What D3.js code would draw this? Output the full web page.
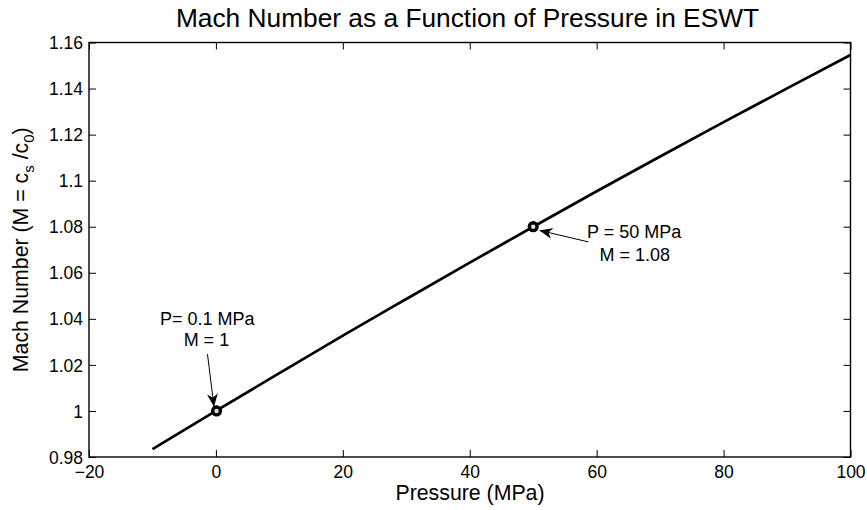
<!DOCTYPE html>
<html><head><meta charset="utf-8">
<script src="https://cdn.jsdelivr.net/npm/d3@7"></script>
<style>body{margin:0;background:#fff}svg{display:block}text{font-family:"Liberation Sans",Arial,Helvetica,sans-serif;fill:#000}</style>
</head><body>
<script>
const pressure = [-10, 0, 10, 20, 30, 40, 50, 60, 70, 80, 90, 100];
const mach = [0.9834, 1.0, 1.0164, 1.0327, 1.0486, 1.0644, 1.08, 1.0954, 1.1105, 1.1254, 1.1401, 1.1546];
const xTicks = [-20, 0, 20, 40, 60, 80, 100];
const yTicks = [0.98, 1, 1.02, 1.04, 1.06, 1.08, 1.1, 1.12, 1.14, 1.16];
const markP = [0.1, 50];
const markM = [1, 1.08];
const titleText = "Mach Number as a Function of Pressure in ESWT";

const W = 867, H = 510;
const m = {l: 89, r: 850.5, t: 42.5, b: 457};
const svg = d3.select("body").append("svg").attr("width", W).attr("height", H);
const defs = svg.append("defs");
defs.append("marker").attr("id","ah").attr("viewBox","0 0 10 10").attr("refX",10).attr("refY",5)
  .attr("markerWidth",13).attr("markerHeight",13).attr("markerUnits","userSpaceOnUse").attr("orient","auto")
  .append("path").attr("d","M0,0.8 L10,5 L0,9.2 L3,5 Z").attr("fill","#000");

const x = d3.scaleLinear().domain([-20, 100]).range([m.l, m.r]);
const y = d3.scaleLinear().domain([0.98, 1.16]).range([m.b, m.t]);

const fmtY = d => String(+d.toFixed(2));
const fmtX = d => d < 0 ? "\u2212" + Math.abs(d) : String(d);

// axes (inward ticks)
const gB = svg.append("g").attr("transform", `translate(0,${m.b})`)
  .call(d3.axisBottom(x).tickValues(xTicks).tickSize(-7).tickPadding(9).tickFormat(fmtX));
const gT = svg.append("g").attr("transform", `translate(0,${m.t})`)
  .call(d3.axisTop(x).tickValues(xTicks).tickSize(-7).tickFormat(""));
const gL = svg.append("g").attr("transform", `translate(${m.l},0)`)
  .call(d3.axisLeft(y).tickValues(yTicks).tickSize(-7).tickPadding(6).tickFormat(fmtY));
const gR = svg.append("g").attr("transform", `translate(${m.r},0)`)
  .call(d3.axisRight(y).tickValues(yTicks).tickSize(-7).tickFormat(""));
[gB,gT,gL,gR].forEach(g => {
  g.select(".domain").remove();
  g.selectAll(".tick line").attr("stroke","#000").attr("stroke-width",1);
  g.selectAll("text").attr("font-size",17.5).attr("fill","#000")
    .style("font-family",'"Liberation Sans",Arial,sans-serif');
});
gB.selectAll("text").attr("dy","0.71em");
gL.selectAll("text").attr("dy","0.35em");

// box
svg.append("rect").attr("x",m.l).attr("y",m.t).attr("width",m.r-m.l).attr("height",m.b-m.t)
  .attr("fill","none").attr("stroke","#000").attr("stroke-width",1.4);

// line
const data = pressure.map((p,i)=>({p, v: mach[i]}));
svg.append("path").datum(data)
  .attr("d", d3.line().x(d=>x(d.p)).y(d=>y(d.v)).curve(d3.curveMonotoneX))
  .attr("fill","none").attr("stroke","#000").attr("stroke-width",2.7);

// markers
svg.selectAll("circle.mk").data(markP.map((p,i)=>({p, v: markM[i]}))).enter().append("circle")
  .attr("cx", d=>x(d.p)).attr("cy", d=>y(d.v)).attr("r",3.9)
  .attr("fill","#ddd").attr("stroke","#000").attr("stroke-width",3.4);

// annotations
const fs = 18;
svg.append("line").attr("x1",x(-1.33)).attr("y1",y(1.0247)).attr("x2",x(-0.3)).attr("y2",y(1.0018))
  .attr("stroke","#000").attr("stroke-width",1).attr("marker-end","url(#ah)");
svg.append("text").attr("x",x(-1.35)).attr("y",y(1.0374)).attr("text-anchor","middle").attr("font-size",fs).text("P= 0.1 MPa");
svg.append("text").attr("x",x(-1.5)).attr("y",y(1.0282)).attr("text-anchor","middle").attr("font-size",fs).text("M = 1");

svg.append("line").attr("x1",x(58.7)).attr("y1",y(1.0734)).attr("x2",x(51.0)).attr("y2",y(1.0784))
  .attr("stroke","#000").attr("stroke-width",1).attr("marker-end","url(#ah)");
svg.append("text").attr("x",x(65.9)).attr("y",y(1.0749)).attr("text-anchor","middle").attr("font-size",fs).text("P = 50 MPa");
svg.append("text").attr("x",x(66.0)).attr("y",y(1.0653)).attr("text-anchor","middle").attr("font-size",fs).text("M = 1.08");

// title and labels
svg.append("text").attr("x",467.5).attr("y",27).attr("text-anchor","middle").attr("font-size",26.3).text(titleText);
svg.append("text").attr("x",470).attr("y",500).attr("text-anchor","middle").attr("font-size",21.3).text("Pressure (MPa)");
const yl = svg.append("text").attr("transform",`translate(28,${(m.t+m.b)/2}) rotate(-90)`).attr("text-anchor","middle").attr("font-size",21.3);
yl.append("tspan").text("Mach Number (M = c");
yl.append("tspan").attr("font-size",15).attr("dy",6).text("s");
yl.append("tspan").attr("dy",-6).text(" /c");
yl.append("tspan").attr("font-size",15).attr("dy",6).text("0");
yl.append("tspan").attr("dy",-6).text(")");
</script>
</body></html>
